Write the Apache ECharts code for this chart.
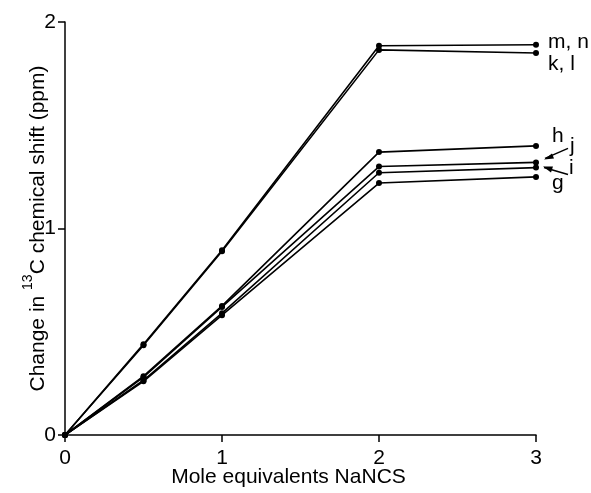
<!DOCTYPE html>
<html>
<head>
  <meta charset="utf-8">
  <title>NaNCS shift</title>
  <script src="https://cdn.jsdelivr.net/npm/echarts@6/dist/echarts.min.js"></script>
</head>
<body style="margin:0">
  <div id="main" style="width:591px;height:493px"></div>
  <script type="text/javascript">
    // mole equivalents of NaNCS
    var xs = [0, 0.5, 1, 2, 3];
    // change in 13C shift per compound group
    var mn = [0, 0.44, 0.895, 1.885, 1.89];
    var kl = [0, 0.435, 0.89, 1.865, 1.85];
    var h  = [0, 0.285, 0.625, 1.37, 1.40];
    var j  = [0, 0.28, 0.62, 1.30, 1.32];
    var i_ = [0, 0.265, 0.59, 1.27, 1.295];
    var g  = [0, 0.26, 0.58, 1.22, 1.25];
    var names = ['m, n', 'k, l', 'h', 'j', 'i', 'g'];
    var groups = [mn, kl, h, j, i_, g];
    var xTicks = [0, 1, 2, 3];
    var yTicks = [0, 1, 2];

    var font = '"Liberation Sans", Arial, sans-serif';
    var chart = echarts.init(document.getElementById('main'));

    function pairs(ys) {
      var out = [];
      for (var k = 0; k < xs.length; k++) out.push([xs[k], ys[k]]);
      return out;
    }

    var series = [];
    for (var s = 0; s < groups.length; s++) {
      series.push({
        name: names[s],
        type: 'line',
        data: pairs(groups[s]),
        symbol: 'circle',
        symbolSize: 6,
        showSymbol: true,
        lineStyle: { color: '#000', width: 1.6 },
        itemStyle: { color: '#000' },
        animation: false
      });
    }

    chart.setOption({
      backgroundColor: '#fff',
      grid: { left: 65, right: 55, top: 22, bottom: 58, outerBoundsMode: 'none', containLabel: false },
      xAxis: {
        type: 'value', min: 0, max: 3, interval: 1,
        name: 'Mole equivalents NaNCS',
        nameLocation: 'middle', nameGap: 32, nameMoveOverlap: false,
        nameTextStyle: { color: '#000', fontSize: 21, fontFamily: font, padding: [0, 24, 0, 0] },
        axisLine: { lineStyle: { color: '#000', width: 1.5 } },
        axisTick: { inside: false, length: 7, lineStyle: { color: '#000', width: 1.5 } },
        axisLabel: { color: '#000', fontSize: 21, fontFamily: font, margin: 13,
          formatter: function (v) { return xTicks.indexOf(v) >= 0 ? String(v) : ''; } },
        splitLine: { show: false }
      },
      yAxis: {
        type: 'value', min: 0, max: 2, interval: 1,
        name: '{a|Change in }{s|13}{a|C chemical shift (ppm)}',
        nameLocation: 'middle', nameGap: 10, nameMoveOverlap: false,
        nameTextStyle: { color: '#000', fontSize: 21, fontFamily: font,
          rich: {
            a: { fontSize: 21, fontFamily: font, color: '#000' },
            s: { fontSize: 14, fontFamily: font, color: '#000', verticalAlign: 'top', lineHeight: 34 }
          } },
        axisLine: { show: true, lineStyle: { color: '#000', width: 1.5 } },
        axisTick: { show: true, inside: false, length: 7, lineStyle: { color: '#000', width: 1.5 } },
        axisLabel: { color: '#000', fontSize: 21, fontFamily: font, margin: 9,
          formatter: function (v) { return yTicks.indexOf(v) >= 0 ? String(v) : ''; } },
        splitLine: { show: false }
      },
      series: series
    });

    // letters at the right-hand ends, placed from the data
    function px(ys, k) { return chart.convertToPixel({ gridIndex: 0 }, [xs[k], ys[k]]); }
    var last = xs.length - 1;
    var pMN = px(mn, last), pKL = px(kl, last), pH = px(h, last),
        pJ = px(j, last), pI = px(i_, last), pG = px(g, last);
    var ts = { fill: '#000', fontSize: 21, fontFamily: font };
    function txt(x, y, t) {
      return { type: 'text', x: x, y: y, style: Object.assign({ text: t, verticalAlign: 'middle' }, ts) };
    }
    chart.setOption({
      graphic: [
        txt(pMN[0] + 12, pMN[1] - 3, 'm, n'),
        txt(pKL[0] + 12, pKL[1] + 11, 'k, l'),
        txt(pH[0] + 16, pH[1] - 10, 'h'),
        txt(pJ[0] + 34, pJ[1] - 16, 'j'),
        txt(pI[0] + 33, pI[1] + 1, 'i'),
        txt(pG[0] + 16, pG[1] + 6, 'g'),
        { type: 'line', shape: { x1: pJ[0] + 32, y1: pJ[1] - 14, x2: pJ[0] + 9, y2: pJ[1] - 4 },
          style: { stroke: '#000', lineWidth: 1.5 } },
        { type: 'polygon', shape: { points: [[pJ[0] + 8, pJ[1] - 3], [pJ[0] + 16, pJ[1] - 9], [pJ[0] + 18, pJ[1] - 4]] },
          style: { fill: '#000' } },
        { type: 'line', shape: { x1: pI[0] + 32, y1: pI[1] + 7, x2: pI[0] + 8, y2: pI[1] },
          style: { stroke: '#000', lineWidth: 1.5 } },
        { type: 'polygon', shape: { points: [[pI[0] + 7, pI[1] - 1], [pI[0] + 17, pI[1] - 1], [pI[0] + 15, pI[1] + 5]] },
          style: { fill: '#000' } }
      ]
    });
  </script>
</body>
</html>
